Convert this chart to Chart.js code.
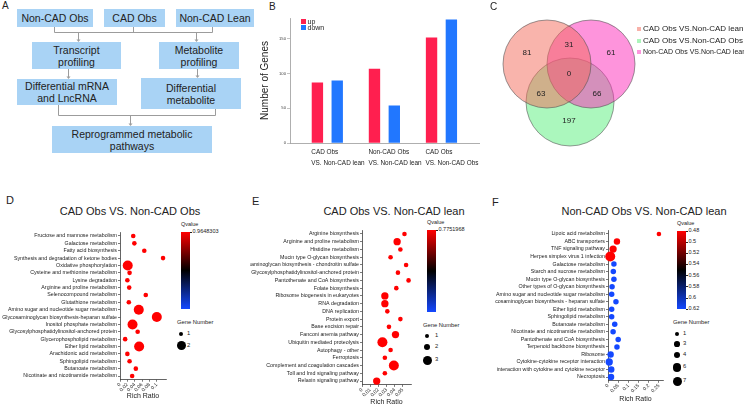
<!DOCTYPE html>
<html>
<head>
<meta charset="utf-8">
<title>Figure</title>
<script src="https://cdn.jsdelivr.net/npm/chart.js@4.4.1/dist/chart.umd.min.js"></script>
<style>
html,body{margin:0;padding:0;background:#fff;}
#fig{position:relative;width:744px;height:406px;overflow:hidden;font-family:"Liberation Sans",Arial,Helvetica,sans-serif;color:#222;}
#fig canvas{position:absolute;}
.box{position:absolute;background:#a9d3f5;display:flex;align-items:center;justify-content:center;text-align:center;font-size:10.5px;line-height:12px;}
.tag{position:absolute;line-height:1;white-space:nowrap;}
.ttl{position:absolute;width:220px;text-align:center;font-size:11px;line-height:12px;white-space:nowrap;}
.sm{position:absolute;line-height:1;white-space:nowrap;}
.dot{position:absolute;border-radius:50%;background:#000;}
.sq{position:absolute;}
</style>
</head>
<body>
<div id="fig">

<!-- A : flow chart -->
<div class="tag" style="left:2px;top:1px;font-size:10px;">A</div>
<svg style="position:absolute;left:0;top:0" width="260" height="160">
  <g stroke="#9c9c9c" stroke-width="1" fill="none">
    <path d="M54.5,27V32.5M133.5,27V32.5M212.5,27V32.5M54.5,32.5H212.5"/>
    <path d="M78.5,32.5V40M196.5,32.5V40M68.5,69V77M197.5,69V76"/>
    <path d="M58.5,105V115.5M215.5,109V115.5M58.5,115.5H215.5M130.5,115.5V124"/>
  </g>
  <g fill="#9c9c9c">
    <path d="M76.5,39.5L80.5,39.5L78.5,42Z"/>
    <path d="M194.5,39.5L198.5,39.5L196.5,42Z"/>
    <path d="M66.5,76.5L70.5,76.5L68.5,79Z"/>
    <path d="M195.5,75.5L199.5,75.5L197.5,78Z"/>
    <path d="M128.5,123.5L132.5,123.5L130.5,126Z"/>
  </g>
</svg>
<div class="box" style="left:17px;top:9px;width:76px;height:18px;">Non-CAD Obs</div>
<div class="box" style="left:104px;top:9px;width:61px;height:18px;">CAD Obs</div>
<div class="box" style="left:176px;top:9px;width:78px;height:18px;">Non-CAD Lean</div>
<div class="box" style="left:32px;top:42px;width:89px;height:27px;">Transcript<br>profiling</div>
<div class="box" style="left:159px;top:42px;width:80px;height:27px;">Metabolite<br>profiling</div>
<div class="box" style="left:17px;top:79px;width:100px;height:26px;">Differential mRNA<br>and LncRNA</div>
<div class="box" style="left:141px;top:78px;width:100px;height:31px;">Differential<br>metabolite</div>
<div class="box" style="left:52px;top:126px;width:160px;height:27px;">Reprogrammed metabolic<br>pathways</div>

<!-- B -->
<div class="tag" style="left:269px;top:2px;font-size:10px;">B</div>
<canvas id="chartB" width="250" height="190" style="left:250px;top:0;width:250px;height:190px;"></canvas>
<div class="sq" style="left:301px;top:19px;width:5px;height:5px;background:#ff1f4f;"></div>
<div class="sm" style="left:307.5px;top:18px;font-size:7px;">up</div>
<div class="sq" style="left:301px;top:25px;width:5px;height:5px;background:#2177ff;"></div>
<div class="sm" style="left:307.5px;top:24px;font-size:7px;">down</div>

<!-- C -->
<div class="tag" style="left:490px;top:2px;font-size:10px;">C</div>
<canvas id="chartC" width="140" height="150" style="left:500px;top:0;width:140px;height:150px;"></canvas>

<!-- D E F -->
<div class="tag" style="left:6px;top:195px;font-size:11px;">D</div>
<div class="ttl" style="left:20px;top:205px;">CAD Obs VS. Non-CAD Obs</div>
<canvas id="chartD" width="175" height="191" style="left:0;top:215px;width:175px;height:191px;"></canvas>

<div class="tag" style="left:252px;top:196px;font-size:11px;">E</div>
<div class="ttl" style="left:284px;top:205px;">CAD Obs VS. Non-CAD lean</div>
<canvas id="chartE" width="170" height="191" style="left:250px;top:215px;width:170px;height:191px;"></canvas>

<div class="tag" style="left:492px;top:197px;font-size:11px;">F</div>
<div class="ttl" style="left:534px;top:205px;">Non-CAD Obs VS. Non-CAD lean</div>
<canvas id="chartF" width="175" height="191" style="left:495px;top:215px;width:175px;height:191px;"></canvas>

<div id="legends"></div>
</div>

<script>
/* ===================== DATA ===================== */

// B : differentially expressed genes
const groupsB = [["CAD Obs", "VS. Non-CAD lean"], ["Non-CAD Obs", "VS. Non-CAD lean"], ["CAD Obs", "VS. Non-CAD Obs"]];
const upGenes = [87, 107, 152];
const downGenes = [90, 54, 178];
const geneTicksB = [0, 50, 100, 150];

// C : venn
const vennSets = ["CAD Obs VS.Non-CAD lean", "CAD Obs VS.Non-CAD Obs", "Non-CAD Obs VS.Non-CAD lean"];
const vennRegions = ["lean only", "right only", "obs only", "lean+right", "lean+obs", "right+obs", "all"];
const vennCounts = [81, 61, 197, 31, 63, 66, 0];

// D : CAD Obs VS. Non-CAD Obs
const pathwaysD = ["Fructose and mannose metabolism", "Galactose metabolism", "Fatty acid biosynthesis",
  "Synthesis and degradation of ketone bodies", "Oxidative phosphorylation", "Cysteine and methionine metabolism",
  "Lysine degradation", "Arginine and proline metabolism", "Selenocompound metabolism", "Glutathione metabolism",
  "Amino sugar and nucleotide sugar metabolism", "Glycosaminoglycan biosynthesis-heparan sulfate",
  "Inositol phosphate metabolism", "Glycosylphosphatidylinositol-anchored protein", "Glycerophospholipid metabolism",
  "Ether lipid metabolism", "Arachidonic acid metabolism", "Sphingolipid metabolism", "Butanoate metabolism",
  "Nicotinate and nicotinamide metabolism"];
const richD = [0.036, 0.039, 0.066, 0.117, 0.021, 0.026, 0.020, 0.025, 0.070, 0.024,
  0.051, 0.100, 0.034, 0.048, 0.014, 0.052, 0.020, 0.026, 0.043, 0.033];
const genesD = [1, 1, 1, 1, 2, 1, 1, 1, 1, 1, 2, 2, 2, 1, 1, 2, 1, 1, 1, 1];
const qvalD = [0.9648303, 0.9648303, 0.9648303, 0.9648303, 0.9648303, 0.9648303, 0.9648303, 0.9648303, 0.9648303, 0.9648303,
  0.9648303, 0.9648303, 0.9648303, 0.9648303, 0.9648303, 0.9648303, 0.9648303, 0.9648303, 0.9648303, 0.9648303];
const richTicksD = [0, 0.02, 0.04, 0.06, 0.08, 0.1];
const qTicksD = [0.9648303];
const geneKeysD = [1, 2];

// E : CAD Obs VS. Non-CAD lean
const pathwaysE = ["Arginine biosynthesis", "Arginine and proline metabolism", "Histidine metabolism",
  "Mucin type O-glycan biosynthesis", "Glycosaminoglycan biosynthesis - chondroitin sulfate",
  "Glycosylphosphatidylinositol-anchored protein", "Pantothenate and CoA biosynthesis", "Folate biosynthesis",
  "Ribosome biogenesis in eukaryotes", "RNA degradation", "DNA replication", "Protein export", "Base excision repair",
  "Fanconi anemia pathway", "Ubiquitin mediated proteolysis", "Autophagy - other", "Ferroptosis",
  "Complement and coagulation cascades", "Toll and Imd signaling pathway", "Relaxin signaling pathway"];
const richE = [0.052, 0.043, 0.047, 0.035, 0.054, 0.044, 0.057, 0.042, 0.028, 0.028,
  0.031, 0.047, 0.033, 0.041, 0.025, 0.035, 0.028, 0.039, 0.028, 0.018];
const genesE = [1, 2, 1, 1, 1, 1, 1, 1, 2, 2, 1, 1, 1, 2, 3, 1, 1, 3, 1, 2];
const qvalE = [0.7751968, 0.7751968, 0.7751968, 0.7751968, 0.7751968, 0.7751968, 0.7751968, 0.7751968, 0.7751968, 0.7751968,
  0.7751968, 0.7751968, 0.7751968, 0.7751968, 0.7751968, 0.7751968, 0.7751968, 0.7751968, 0.7751968, 0.7751968];
const richTicksE = [0, 0.01, 0.02, 0.03, 0.04, 0.05];
const qTicksE = [0.7751968];
const geneKeysE = [1, 2, 3];

// F : Non-CAD Obs VS. Non-CAD lean
const pathwaysF = ["Lipoic acid metabolism", "ABC transporters", "TNF signaling pathway",
  "Herpes simplex virus 1 infection", "Galactose metabolism", "Starch and sucrose metabolism",
  "Mucin type O-glycan biosynthesis", "Other types of O-glycan biosynthesis",
  "Amino sugar and nucleotide sugar metabolism", "Glycosaminoglycan biosynthesis - heparan sulfate",
  "Ether lipid metabolism", "Sphingolipid metabolism", "Butanoate metabolism",
  "Nicotinate and nicotinamide metabolism", "Pantothenate and CoA biosynthesis", "Terpenoid backbone biosynthesis",
  "Ribosome", "Cytokine-cytokine receptor interaction",
  "Viral protein interaction with cytokine and cytokine receptor", "Necroptosis"];
const richF = [0.25, 0.044, 0.025, 0.011, 0.029, 0.026, 0.029, 0.020, 0.018, 0.039,
  0.018, 0.018, 0.033, 0.025, 0.050, 0.044, 0.013, 0.006, 0.016, 0.015];
const genesF = [1, 3, 4, 7, 2, 2, 2, 2, 2, 2, 2, 2, 2, 2, 2, 2, 3, 4, 3, 3];
const qvalF = [0.48, 0.48, 0.48, 0.48, 0.62, 0.62, 0.62, 0.62, 0.62, 0.62,
  0.62, 0.62, 0.62, 0.62, 0.62, 0.62, 0.62, 0.62, 0.62, 0.62];
const richTicksF = [0, 0.05, 0.1, 0.15, 0.2, 0.25];
const qTicksF = [0.48, 0.5, 0.52, 0.54, 0.56, 0.58, 0.6, 0.62];
const geneKeysF = [1, 3, 4, 6, 7];

/* ===================== HELPERS ===================== */

Chart.defaults.font.family = '"Liberation Sans", Arial, sans-serif';
Chart.defaults.color = '#222';

const RED = [255, 0, 0];
const BLUE = [20, 72, 255];

// low q -> red, middle -> black, high q -> blue
function qColor(q, lo, hi) {
  const t = hi > lo ? (q - lo) / (hi - lo) : 0;
  let c;
  if (t <= 0.5) {
    c = RED.map(v => v * (1 - t / 0.5));
  } else {
    c = BLUE.map(v => v * ((t - 0.5) / 0.5));
  }
  return 'rgb(' + c.map(Math.round).join(',') + ')';
}

function sizeScale(genes) {
  const lo = Math.min(...genes), hi = Math.max(...genes);
  return n => hi > lo ? 2.3 + 2.7 * (n - lo) / (hi - lo) : 2.3;
}

function add(html) {
  document.getElementById('legends').insertAdjacentHTML('beforeend', html);
}

/* ===================== B : BAR CHART ===================== */

new Chart(document.getElementById('chartB'), {
  type: 'bar',
  data: {
    datasets: [
      { label: 'up', data: upGenes.map((v, i) => ({ x: i + 1, y: v })), backgroundColor: '#ff1f4f' },
      { label: 'down', data: downGenes.map((v, i) => ({ x: i + 1, y: v })), backgroundColor: '#2177ff' }
    ]
  },
  options: {
    responsive: false, animation: false, events: [],
    layout: { padding: { left: 0, right: 13, top: 18, bottom: 0 }, autoPadding: false },
    datasets: { bar: { categoryPercentage: 0.695, barPercentage: 0.573 } },
    plugins: { legend: { display: false }, tooltip: { enabled: false } },
    scales: {
      x: {
        type: 'linear', min: 0.346, max: 3.671, offset: false,
        afterBuildTicks: s => { s.ticks = groupsB.map((g, i) => ({ value: i + 1 })); },
        afterFit: s => { s.height = 47; },
        ticks: {
          callback: (v, i) => groupsB[i], align: 'start', labelOffset: -16, autoSkip: false,
          font: { size: 6.4, lineHeight: 1.8 }, color: '#222', padding: 3, maxRotation: 0
        },
        grid: { display: false, drawTicks: false, offset: false },
        border: { color: '#9a9a9a', width: 0.8 }
      },
      y: {
        min: 0, max: 180,
        afterBuildTicks: s => { s.ticks = geneTicksB.map(v => ({ value: v })); },
        afterFit: s => { s.width = 40; },
        ticks: { font: { size: 4.2 }, color: '#444', padding: 1 },
        grid: { drawOnChartArea: false, tickLength: 3, color: '#9a9a9a', lineWidth: 0.6 },
        border: { color: '#9a9a9a', width: 0.8 },
        title: { display: true, text: 'Number of Genes', font: { size: 10 }, color: '#222', padding: { top: 9, bottom: 0 } }
      }
    }
  }
});

/* ===================== C : VENN ===================== */

// circle layout (canvas pixels) in vennSets order: left, bottom, right
const vennCentres = [[47, 64], [70, 102], [91, 64]];
const vennFill = ['rgba(243,105,89,0.5)', 'rgba(87,239,123,0.5)', 'rgba(253,41,185,0.5)'];
const vennKey = ['#f8b1a9', '#abf5bb', '#fd95dc'];
const vennDrawOrder = [1, 2, 0];
const vennLabelAt = [[27, 53], [111, 53], [69, 121], [69, 45], [41, 94], [97, 94], [69, 74]];

const vennText = {
  id: 'vennText',
  afterDatasetsDraw(chart) {
    const { ctx, scales: { x, y } } = chart;
    ctx.save();
    ctx.fillStyle = '#222';
    ctx.font = '8px "Liberation Sans", Arial, sans-serif';
    ctx.textAlign = 'center';
    ctx.textBaseline = 'middle';
    vennCounts.forEach((n, i) => {
      ctx.fillText(String(n), x.getPixelForValue(vennLabelAt[i][0]), y.getPixelForValue(vennLabelAt[i][1]));
    });
    ctx.restore();
  }
};

new Chart(document.getElementById('chartC'), {
  type: 'bubble',
  data: {
    datasets: [{
      data: vennDrawOrder.map(k => ({ x: vennCentres[k][0], y: vennCentres[k][1], r: 44 })),
      backgroundColor: vennDrawOrder.map(k => vennFill[k]),
      borderColor: '#555', borderWidth: 0.6, clip: false
    }]
  },
  options: {
    responsive: false, animation: false, events: [],
    layout: { padding: 0, autoPadding: false },
    plugins: { legend: { display: false }, tooltip: { enabled: false } },
    scales: {
      x: { display: false, min: 0, max: 140 },
      y: { display: false, min: 0, max: 150, reverse: true }
    }
  },
  plugins: [vennText]
});

const vennKeyY = [27, 39, 50];
const vennKeyFont = [8, 8, 7];
vennSets.forEach((name, i) => {
  add('<div class="sq" style="left:637px;top:' + vennKeyY[i] + 'px;width:4px;height:4px;background:' + vennKey[i] + ';"></div>' +
      '<div class="sm" style="left:643px;top:' + (vennKeyY[i] - 2) + 'px;font-size:' + vennKeyFont[i] + 'px;">' + name + '</div>');
});

/* ===================== D E F : BUBBLE PLOTS ===================== */

function dotPlot(id, names, rich, genes, qv, richTicks, spec) {
  const lo = Math.min(...qv), hi = Math.max(...qv);
  const rad = sizeScale(genes);
  new Chart(document.getElementById(id), {
    type: 'bubble',
    data: {
      datasets: [{
        data: names.map((n, i) => ({ x: rich[i], y: n, r: rad(genes[i]) })),
        backgroundColor: qv.map(q => qColor(q, lo, hi)),
        borderWidth: 0, clip: false
      }]
    },
    options: {
      responsive: false, animation: false, events: [],
      layout: { padding: { left: 0, right: spec.pr, top: spec.pt, bottom: 0 }, autoPadding: false },
      plugins: { legend: { display: false }, tooltip: { enabled: false } },
      scales: {
        x: {
          type: 'linear', min: 0, max: spec.xMax,
          afterBuildTicks: s => { s.ticks = richTicks.map(v => ({ value: v })); },
          afterFit: s => { s.height = spec.xh; },
          ticks: { minRotation: 45, maxRotation: 45, autoSkip: false, font: { size: 5 }, color: '#222', padding: 0, callback: v => String(v) },
          grid: { drawOnChartArea: false, tickLength: 2, color: '#222', lineWidth: 0.6 },
          border: { color: '#222', width: 0.7 },
          title: { display: true, text: 'Rich Ratio', font: { size: 7 }, color: '#222', padding: { top: 0, bottom: spec.tb } }
        },
        y: {
          type: 'category', labels: names, offset: true,
          afterFit: s => { s.width = spec.yw; },
          ticks: { autoSkip: false, font: { size: 5.3 }, color: '#222', padding: 1 },
          grid: { drawOnChartArea: false, tickLength: 2, color: '#222', lineWidth: 0.6 },
          border: { color: '#222', width: 0.7 }
        }
      }
    }
  });

  // colour bar
  const cb = spec.bar;
  add('<div class="sm" style="left:' + cb.x + 'px;top:' + (cb.y - 10) + 'px;font-size:5.5px;">Qvalue</div>');
  add('<div class="sq" style="left:' + cb.x + 'px;top:' + cb.y + 'px;width:' + cb.w + 'px;height:' + cb.h +
      'px;background:linear-gradient(to bottom,rgb(' + RED + '),#000,rgb(' + BLUE + '));"></div>');
  spec.qTicks.forEach(q => {
    const ty = cb.y + (hi > lo ? (q - lo) / (hi - lo) : 0) * cb.h;
    add('<div class="sq" style="left:' + (cb.x + cb.w) + 'px;top:' + (ty - 0.3) + 'px;width:2px;height:0.6px;background:#222;"></div>' +
        '<div class="sm" style="left:' + (cb.x + cb.w + 2.5) + 'px;top:' + (ty - 3) + 'px;font-size:5.5px;">' + q + '</div>');
  });

  // gene number key
  const g = spec.key;
  add('<div class="sm" style="left:' + g.x + 'px;top:' + g.ty + 'px;font-size:5.8px;">Gene Number</div>');
  let cy = g.y0, prev = 0;
  spec.keys.forEach((n, i) => {
    const r = rad(n) * 0.9;
    if (i > 0) cy += prev + r + g.gap;
    prev = r;
    add('<div class="dot" style="left:' + (g.cx - r) + 'px;top:' + (cy - r) + 'px;width:' + (2 * r) + 'px;height:' + (2 * r) + 'px;"></div>' +
        '<div class="sm" style="left:' + g.lx + 'px;top:' + (cy - 3) + 'px;font-size:5.8px;">' + n + '</div>');
  });
}

dotPlot('chartD', pathwaysD, richD, genesD, qvalD, richTicksD, {
  pt: 17.3, pr: 9, xh: 26.3, yw: 120, xMax: 0.125, tb: 5.5, qTicks: qTicksD,
  bar: { x: 181, y: 232, w: 9, h: 77 },
  key: { x: 177, ty: 320, cx: 181, y0: 334, gap: 5, lx: 187 }, keys: geneKeysD
});
dotPlot('chartE', pathwaysE, richE, genesE, qvalE, richTicksE, {
  pt: 15.1, pr: 9, xh: 21.1, yw: 112, xMax: 0.06, tb: 0, qTicks: qTicksE,
  bar: { x: 427, y: 230, w: 9, h: 82 },
  key: { x: 423, ty: 323, cx: 427, y0: 336, gap: 5.5, lx: 435 }, keys: geneKeysE
});
dotPlot('chartF', pathwaysF, richF, genesF, qvalF, richTicksF, {
  pt: 15.2, pr: 7, xh: 25.2, yw: 113, xMax: 0.27, tb: 2.5, qTicks: qTicksF,
  bar: { x: 677, y: 231, w: 9, h: 78 },
  key: { x: 673, ty: 320, cx: 677, y0: 334, gap: 5, lx: 683 }, keys: geneKeysF
});
</script>
</body>
</html>
